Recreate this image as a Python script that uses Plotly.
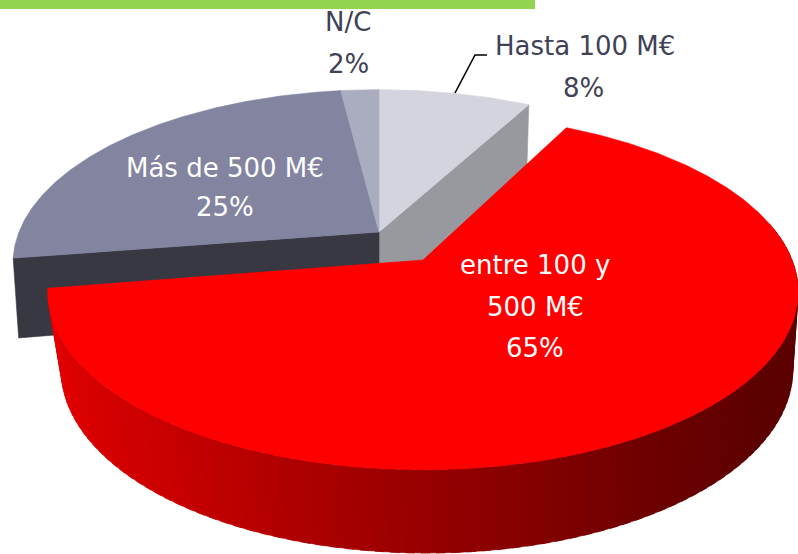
import numpy as np
import plotly.graph_objects as go

# ---- data ----
categories = ["Hasta 100 M€", "entre 100 y 500 M€", "Más de 500 M€", "N/C"]
values = [8, 65, 25, 2]
top_colors = ["#d3d4de", "#ff0000", "#8284a0", "#aaacbf"]

W, H = 798, 554
K = 0.18
A_BACK, B_BACK = 168, 360
A_RED, B_RED = 172, 369
BACK_C = (379, 232)
RED_C = (423, 260)
RED_TWIST = 2.0
BACK_TWIST = 1.5
DEPTH = 77


def proj(t, c, A, B, dy=0.0, dx=0.0, xs=1.0, ys=1.0):
    t = np.radians(t)
    u, v = np.cos(t), np.sin(t)
    w = 1 + K * v
    return c[0] + dx + xs * B * u / w, c[1] + dy - ys * A * v / w


def arc(a0, a1, c, A, B, **kw):
    n = max(3, int(abs(a1 - a0) * 2))
    return proj(np.linspace(a0, a1, n), c, A, B, **kw)


fig = go.Figure()


def poly(xs, ys, color):
    fig.add_trace(go.Scatter(
        x=list(xs) + [xs[0]], y=list(ys) + [ys[0]], mode="lines", fill="toself",
        fillcolor=color, line=dict(color=color, width=0.6), hoverinfo="skip", showlegend=False))


# slice angles, clockwise from 12 o'clock
edges = 90 - np.cumsum([0] + values) * 3.6
a_h0, a_h1 = edges[0], edges[1]
a_r0, a_r1 = edges[1], edges[2]
a_b0, a_b1 = edges[2] + BACK_TWIST, edges[3]
a_n0, a_n1 = edges[3], edges[4]

bot_back = dict(dy=DEPTH + 2, dx=0, xs=0.985, ys=1.03)
bot_red = dict(dy=DEPTH, dx=4, xs=0.975, ys=1.03)

# Cut face of the first slice
p0 = proj(a_h1, BACK_C, A_BACK, B_BACK)
p1 = proj(a_h1, BACK_C, A_BACK, B_BACK, **bot_back)
poly([BACK_C[0], p0[0], p1[0], BACK_C[0]], [BACK_C[1], p0[1], p1[1], BACK_C[1] + DEPTH], "#98999e")

# Cut face of the third slice
p0 = proj(a_b0, BACK_C, A_BACK, B_BACK)
p1 = proj(a_b0, BACK_C, A_BACK, B_BACK, **bot_back)
poly([BACK_C[0], p0[0], p1[0], BACK_C[0]], [BACK_C[1], p0[1], p1[1], BACK_C[1] + DEPTH], "#383843")

# Top faces of the back slices
for (a0, a1, col) in [(a_h0, a_h1, top_colors[0]), (a_b0, a_b1, top_colors[2]), (a_n0, a_n1, top_colors[3])]:
    ax, ay = arc(a0, a1, BACK_C, A_BACK, B_BACK)
    poly([BACK_C[0], *ax], [BACK_C[1], *ay], col)

# Red slice: outer wall with a shaded sweep, then top face
r0, r1 = a_r0 + RED_TWIST, a_r1 + RED_TWIST
ramp_t = [-170, -130, -90, -60, -35, 10]
ramp_r = [232, 205, 150, 110, 92, 92]
STEP = 2.0
ts = np.arange(r1, 10, STEP)
for t0 in ts:
    t1 = t0 + STEP * 1.6  # overlap the next strip so no seams show
    tx0, ty0 = proj(t0, RED_C, A_RED, B_RED)
    tx1, ty1 = proj(t1, RED_C, A_RED, B_RED)
    bx0, by0 = proj(t0, RED_C, A_RED, B_RED, **bot_red)
    bx1, by1 = proj(t1, RED_C, A_RED, B_RED, **bot_red)
    r = int(np.interp(t0, ramp_t, ramp_r))
    poly([tx0, tx1, bx1, bx0], [ty0, ty1, by1, by0], f"rgb({r},0,0)")

ax, ay = arc(r0, r1, RED_C, A_RED, B_RED)
poly([RED_C[0], *ax], [RED_C[1], *ay], top_colors[1])

# Leader line for the first slice
fig.add_trace(go.Scatter(x=[455, 475, 487], y=[93, 55, 55], mode="lines",
                         line=dict(color="#000000", width=1.6), hoverinfo="skip", showlegend=False))

# Labels
DARK, WHITE = "#3f4157", "#ffffff"
label_lines = [
    ("N/C", 348, 22, DARK), (f"{values[3]}%", 348, 64, DARK),
    ("Hasta 100 M€", 585, 46, DARK), (f"{values[0]}%", 583, 88, DARK),
    ("Más de 500 M€", 225, 168, WHITE), (f"{values[2]}%", 225, 207, WHITE),
    ("entre 100 y", 535, 265, WHITE), ("500 M€", 535, 307, WHITE), (f"{values[1]}%", 535, 348, WHITE),
]
for txt, x, y, col in label_lines:
    fig.add_annotation(x=x, y=y, text=txt, showarrow=False, xanchor="center", yanchor="middle",
                       font=dict(family="DejaVu Sans", size=26, color=col))

fig.add_shape(type="rect", x0=0, x1=535, y0=0, y1=9, fillcolor="#92d450", line_width=0, layer="above")

fig.update_layout(
    width=W, height=H, margin=dict(l=0, r=0, t=0, b=0),
    paper_bgcolor="white", plot_bgcolor="white", showlegend=False,
    xaxis=dict(range=[0, W], visible=False, fixedrange=True),
    yaxis=dict(range=[H, 0], visible=False, fixedrange=True),
)
fig.write_html("out.html", config={"displayModeBar": False},
               post_script="document.body.style.margin='0';document.body.style.overflow='hidden';")
